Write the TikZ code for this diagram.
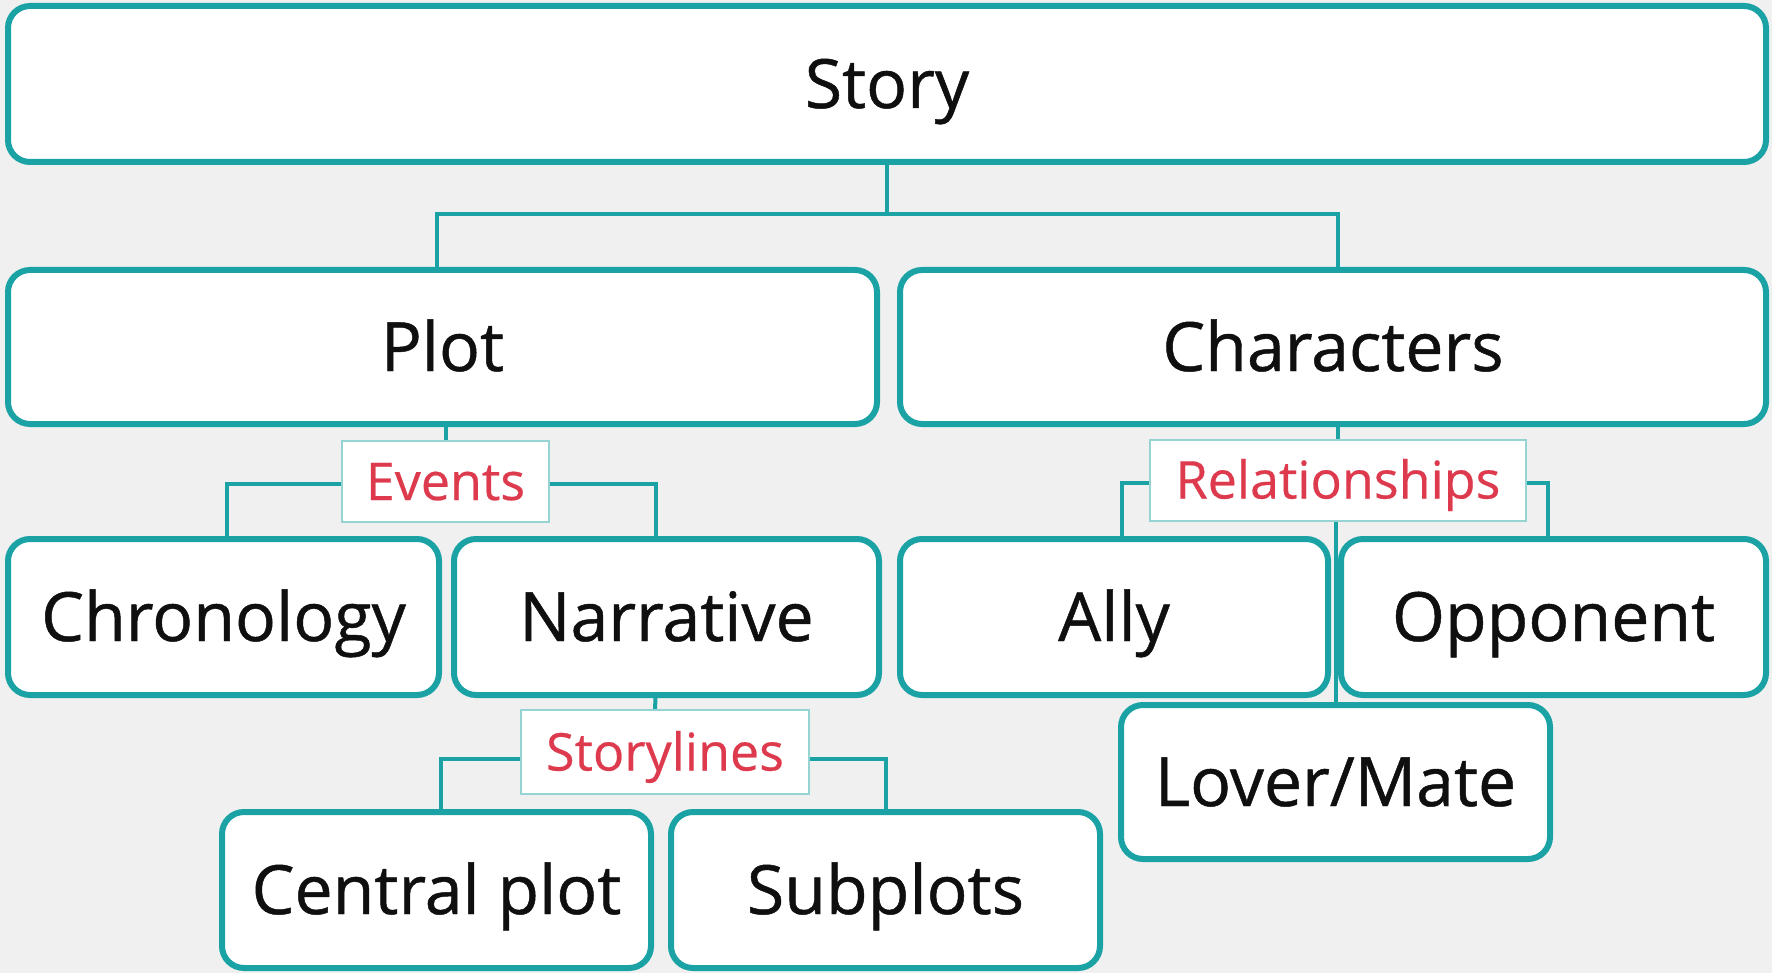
\documentclass[tikz,border=0pt]{standalone}
\usepackage{fontspec}
\setmainfont{Open Sans}
\newfontfamily\boxfont{Open Sans}[FakeBold=0.7]
\newfontfamily\labfont{Open Sans}[FakeBold=0.4]
\usetikzlibrary{calc}
\definecolor{tealA}{RGB}{26,162,164}
\definecolor{lblborder}{RGB}{150,212,212}
\definecolor{redtxt}{RGB}{222,58,78}
\definecolor{bggray}{RGB}{240,240,240}
\definecolor{txtdark}{RGB}{15,15,15}
\pgfdeclarelayer{background}
\pgfdeclarelayer{lines}
\pgfsetlayers{background,lines,main}
\begin{document}
\begin{tikzpicture}[x=0.5pt,y=-0.5pt,
  box/.style={draw=tealA, line width=3pt, fill=white, rounded corners=11pt,
    inner sep=0pt, font=\boxfont\fontsize{34}{40}\selectfont, text=txtdark,
    text height=24pt, text depth=0pt},
  lab/.style={draw=lblborder, line width=1pt, fill=white, inner sep=0pt,
    font=\labfont\fontsize{26}{30}\selectfont, text=redtxt, text height=18.5pt, text depth=0pt},
  conn/.style={draw=tealA, line width=2pt}]
\useasboundingbox (0,0) rectangle (1772,973);

% boxes
\node[box, minimum width=879pt, minimum height=78pt] (story) at (887,84) {Story};
\node[box, minimum width=434.5pt, minimum height=77pt] (plot) at (442.5,347) {Plot};
\node[box, minimum width=433pt, minimum height=77pt] (char) at (1333,347) {Characters};
\node[box, minimum width=215.5pt, minimum height=78pt] (chrono) at (223.5,617) {Chronology};
\node[box, minimum width=212.5pt, minimum height=78pt] (narr) at (666.5,617) {Narrative};
\node[box, minimum width=214pt, minimum height=78pt] (ally) at (1114,617) {Ally};
\node[box, minimum width=212.5pt, minimum height=78pt] (opp) at (1553.5,617) {Opponent};
\node[box, minimum width=214.5pt, minimum height=77pt] (lover) at (1335.5,782) {Lover/Mate};
\node[box, minimum width=214.5pt, minimum height=78pt] (central) at (436.5,890) {Central plot};
\node[box, minimum width=214.5pt, minimum height=78pt] (subp) at (885.5,890) {Subplots};

% labels
\node[lab, minimum width=103.5pt, minimum height=40.5pt] (events) at (445.5,481.5) {Events};
\node[lab, minimum width=144pt, minimum height=42pt] (storyl) at (665,752) {Storylines};
\node[lab, minimum width=188pt, minimum height=40.5pt] (rel) at (1338,480) {Relationships};

\begin{pgfonlayer}{background}
\fill[bggray] (0,0) rectangle (1772,973);
\end{pgfonlayer}

\begin{pgfonlayer}{lines}
% story
\draw[conn] (story.south) -- ++(0,49) coordinate (sj);
\draw[conn] ($(plot.north)+(-6,0)$) |- (sj);
\draw[conn] ($(char.north)+(5,0)$) |- (sj);
% events
\draw[conn] (events.north |- plot.south) -- (events.north);
\draw[conn] ($(events.west)+(0,2.5)$) -| ($(chrono.north)+(3,0)$);
\draw[conn] ($(events.east)+(0,2.5)$) -| ($(narr.north)+(-11,0)$);
% storylines
\draw[conn] ($(narr.south)+(-11,0)$) -- ($(storyl.north)+(-10,0)$);
\draw[conn] ($(storyl.west)+(0,7)$) -| ($(central.north)+(4,0)$);
\draw[conn] ($(storyl.east)+(0,7)$) -| (subp.north);
% relationships
\draw[conn] (rel.north |- char.south) -- (rel.north);
\draw[conn] ($(rel.west)+(0,3)$) -| ($(ally.north)+(8,0)$);
\draw[conn] ($(rel.east)+(0,3)$) -| ($(opp.north)+(-6,0)$);
\draw[conn] (lover.north |- rel.south) -- (lover.north);
\end{pgfonlayer}
\end{tikzpicture}
\end{document}
